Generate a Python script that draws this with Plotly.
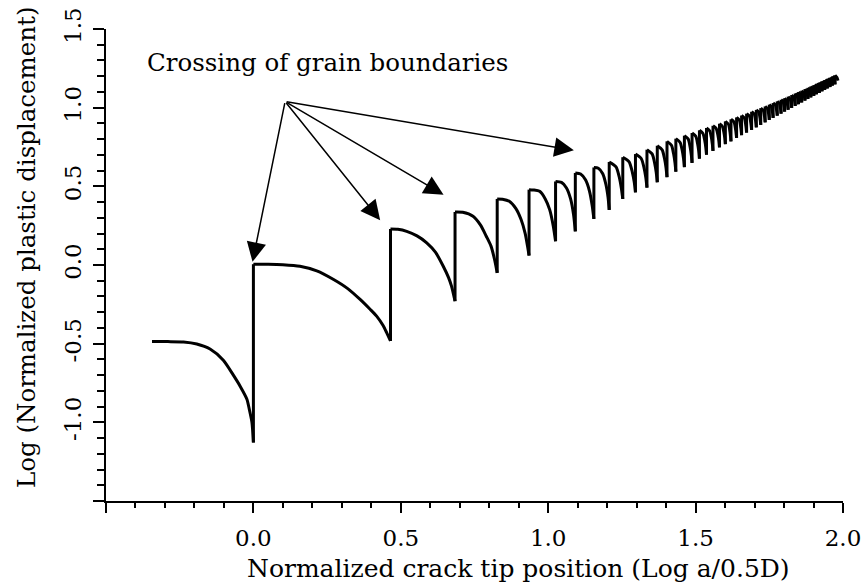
import plotly.graph_objects as go

# ---- data ----
# crack tip position (log a/0.5D) and log normalized plastic displacement, segment by segment
segment_x = [
    [-0.344, -0.29, -0.237, -0.192, -0.147, -0.102, -0.068, -0.045, -0.022, -0.014, -0.005, 0.0],
    [0.0, 0.05, 0.10, 0.158, 0.215, 0.272, 0.32, 0.362, 0.395, 0.418, 0.44, 0.452, 0.465],
    [0.465, 0.49, 0.52, 0.555, 0.588, 0.618, 0.644, 0.662, 0.672, 0.684],
    [0.684, 0.71, 0.745, 0.77, 0.79, 0.806, 0.818, 0.827],
    [0.827, 0.845, 0.868, 0.89, 0.908, 0.922, 0.93, 0.935],
    [0.935, 0.95, 0.971, 0.99, 1.005, 1.017, 1.025],
    [1.025, 1.045, 1.062, 1.076, 1.086, 1.092],
    [1.092, 1.11, 1.127, 1.14, 1.149, 1.155],
    [1.155, 1.17, 1.185, 1.196, 1.203, 1.207],
    [1.207, 1.230, 1.2415, 1.248, 1.253],
    [1.253, 1.2745, 1.2853, 1.2917, 1.296],
    [1.296, 1.3155, 1.3253, 1.3311, 1.335],
    [1.335, 1.3525, 1.3613, 1.3665, 1.370],
    [1.370, 1.3865, 1.3948, 1.3997, 1.403],
    [1.403, 1.418, 1.4255, 1.430, 1.433],
    [1.433, 1.4475, 1.4548, 1.4591, 1.462],
    [1.462, 1.475, 1.4815, 1.4854, 1.488],
    [1.488, 1.5005, 1.5068, 1.5105, 1.513],
    [1.513, 1.525, 1.531, 1.5346, 1.537],
    [1.537, 1.548, 1.5535, 1.5568, 1.559],
    [1.559, 1.570, 1.5755, 1.5788, 1.581],
    [1.581, 1.591, 1.596, 1.599, 1.601],
    [1.601, 1.6115, 1.6172, 1.620],
    [1.620, 1.6305, 1.6362, 1.639],
    [1.639, 1.6484, 1.6535, 1.656],
    [1.656, 1.6654, 1.6705, 1.673],
    [1.673, 1.6824, 1.6875, 1.690],
    [1.690, 1.6988, 1.7036, 1.706],
    [1.706, 1.7143, 1.7188, 1.721],
    [1.721, 1.7293, 1.7338, 1.736],
    [1.736, 1.7437, 1.7479, 1.750],
    [1.750, 1.7572, 1.7611, 1.763],
    [1.763, 1.7707, 1.7749, 1.777],
    [1.777, 1.7842, 1.7881, 1.790],
    [1.790, 1.7966, 1.8002, 1.802],
    [1.802, 1.8092, 1.814],
    [1.814, 1.8212, 1.826],
    [1.826, 1.8332, 1.838],
    [1.838, 1.8446, 1.849],
    [1.849, 1.8556, 1.860],
    [1.860, 1.8666, 1.871],
    [1.871, 1.877, 1.881],
    [1.881, 1.887, 1.891],
    [1.891, 1.897, 1.901],
    [1.901, 1.9064, 1.910],
    [1.910, 1.916, 1.920],
    [1.920, 1.9254, 1.929],
    [1.929, 1.9344, 1.938],
    [1.938, 1.9434, 1.947],
    [1.947, 1.9524, 1.956],
    [1.956, 1.9608, 1.964],
    [1.964, 1.9694, 1.973],
    [1.973, 1.979, 1.983],
]
segment_y = [
    [-0.487, -0.487, -0.489, -0.502, -0.534, -0.605, -0.7, -0.77, -0.853, -0.916, -1.0, -1.128],
    [0.005, 0.005, 0.002, -0.008, -0.037, -0.092, -0.15, -0.219, -0.28, -0.325, -0.385, -0.43, -0.483],
    [0.229, 0.227, 0.214, 0.185, 0.141, 0.08, -0.008, -0.08, -0.134, -0.23],
    [0.337, 0.335, 0.31, 0.255, 0.183, 0.12, 0.035, -0.05],
    [0.42, 0.418, 0.405, 0.36, 0.289, 0.2, 0.119, 0.06],
    [0.479, 0.477, 0.468, 0.42, 0.352, 0.25, 0.151],
    [0.531, 0.525, 0.49, 0.42, 0.32, 0.214],
    [0.585, 0.578, 0.54, 0.47, 0.38, 0.293],
    [0.62, 0.615, 0.58, 0.51, 0.43, 0.35],
    [0.655, 0.624, 0.556, 0.490, 0.42],
    [0.685, 0.656, 0.591, 0.529, 0.462],
    [0.705, 0.677, 0.616, 0.556, 0.492],
    [0.733, 0.706, 0.646, 0.588, 0.526],
    [0.758, 0.732, 0.674, 0.618, 0.558],
    [0.786, 0.761, 0.705, 0.651, 0.593],
    [0.803, 0.779, 0.727, 0.676, 0.622],
    [0.822, 0.800, 0.749, 0.701, 0.649],
    [0.839, 0.818, 0.771, 0.725, 0.676],
    [0.856, 0.836, 0.791, 0.747, 0.701],
    [0.871, 0.852, 0.810, 0.769, 0.725],
    [0.885, 0.867, 0.827, 0.789, 0.748],
    [0.898, 0.881, 0.843, 0.807, 0.768],
    [0.913, 0.894, 0.837, 0.786],
    [0.926, 0.908, 0.855, 0.808],
    [0.938, 0.921, 0.870, 0.825],
    [0.950, 0.934, 0.885, 0.842],
    [0.962, 0.947, 0.900, 0.859],
    [0.974, 0.959, 0.915, 0.875],
    [0.986, 0.972, 0.929, 0.891],
    [0.997, 0.984, 0.943, 0.907],
    [1.008, 0.995, 0.956, 0.922],
    [1.019, 1.006, 0.968, 0.935],
    [1.029, 1.017, 0.981, 0.949],
    [1.040, 1.028, 0.993, 0.962],
    [1.050, 1.039, 1.005, 0.975],
    [1.060, 1.042, 0.987],
    [1.070, 1.052, 0.999],
    [1.080, 1.063, 1.011],
    [1.090, 1.073, 1.022],
    [1.099, 1.082, 1.033],
    [1.108, 1.092, 1.045],
    [1.118, 1.102, 1.055],
    [1.126, 1.111, 1.065],
    [1.135, 1.120, 1.075],
    [1.143, 1.128, 1.085],
    [1.152, 1.137, 1.094],
    [1.160, 1.146, 1.104],
    [1.168, 1.154, 1.113],
    [1.176, 1.162, 1.122],
    [1.184, 1.170, 1.131],
    [1.191, 1.178, 1.140],
    [1.199, 1.186, 1.148],
    [1.206, 1.193, 1.172],
]

arrow_origin_x = 0.1075
arrow_origin_y = 1.039
arrow_tip_x = [-0.003, 0.430, 0.645, 1.087]
arrow_tip_y = [0.020, 0.285, 0.447, 0.729]

x_tick_vals = [-0.5, 0.0, 0.5, 1.0, 1.5, 2.0]
x_tick_text = ["", "0.0", "0.5", "1.0", "1.5", "2.0"]
y_tick_vals = [-1.5, -1.0, -0.5, 0.0, 0.5, 1.0, 1.5]
y_tick_text = ["", "-1.0", "-0.5", "0.0", "0.5", "1.0", "1.5"]

x_title = "Normalized crack tip position (Log a/0.5D)"
y_title = "Log (Normalized plastic displacement)"
note_text = "Crossing of grain boundaries"

# ---- build figure ----
FONT = "DejaVu Serif"
LINE_W = 3.0

fig = go.Figure()

# smooth arcs inside each grain
for sx, sy in zip(segment_x, segment_y):
    fig.add_trace(go.Scatter(
        x=sx, y=sy, mode="lines",
        line=dict(color="black", width=LINE_W, shape="spline", smoothing=0.7),
        hoverinfo="skip",
    ))

# vertical jumps at each grain boundary (end of one segment -> start of next)
jump_x, jump_y = [], []
for i in range(len(segment_x) - 1):
    jump_x += [segment_x[i][-1], segment_x[i + 1][0], None]
    jump_y += [segment_y[i][-1], segment_y[i + 1][0], None]
fig.add_trace(go.Scatter(
    x=jump_x, y=jump_y, mode="lines",
    line=dict(color="black", width=LINE_W),
    hoverinfo="skip",
))

for tx, ty in zip(arrow_tip_x, arrow_tip_y):
    fig.add_annotation(
        x=tx, y=ty, ax=arrow_origin_x, ay=arrow_origin_y,
        xref="x", yref="y", axref="x", ayref="y",
        showarrow=True, arrowhead=2, arrowsize=2.6, arrowwidth=1.5,
        arrowcolor="black", standoff=0, text="",
    )

fig.add_annotation(
    x=0.2999, y=0.928, xref="paper", yref="paper",
    text=note_text, showarrow=False, xanchor="center", yanchor="middle",
    font=dict(family=FONT, size=24.5, color="black"),
)
fig.add_annotation(
    x=0.5597, y=-0.144, xref="paper", yref="paper",
    text=x_title, showarrow=False, xanchor="center", yanchor="middle",
    font=dict(family=FONT, size=25, color="black"),
)
fig.add_annotation(
    x=-0.1085, y=0.538, xref="paper", yref="paper",
    text=y_title, showarrow=False, xanchor="center", yanchor="middle",
    textangle=-90,
    font=dict(family=FONT, size=24.5, color="black"),
)

axis_common = dict(
    showline=True, linecolor="black", linewidth=2,
    showgrid=False, zeroline=False, automargin=False,
    ticks="outside", tickcolor="black", tickwidth=2,
    tickfont=dict(family=FONT, size=23, color="black"),
)

fig.update_xaxes(
    range=[-0.5, 2.0], tickmode="array", tickvals=x_tick_vals, ticktext=x_tick_text,
    ticklen=10, ticklabelstandoff=5,
    minor=dict(dtick=0.1, tick0=0, ticks="outside", ticklen=5, tickwidth=1.5,
               tickcolor="black", showgrid=False),
    **axis_common,
)
fig.update_yaxes(
    range=[-1.5, 1.5], tickmode="array", tickvals=y_tick_vals, ticktext=y_tick_text,
    ticklen=11, tickangle=-90, ticklabelstandoff=3,
    minor=dict(dtick=0.1, tick0=0, ticks="outside", ticklen=7, tickwidth=1.5,
               tickcolor="black", showgrid=False),
    **axis_common,
)

fig.update_layout(
    width=866, height=588,
    margin=dict(l=106, r=23, t=29, b=87),
    plot_bgcolor="white", paper_bgcolor="white",
    showlegend=False,
    font=dict(family=FONT, size=24, color="black"),
)

fig.write_html("out.html")
